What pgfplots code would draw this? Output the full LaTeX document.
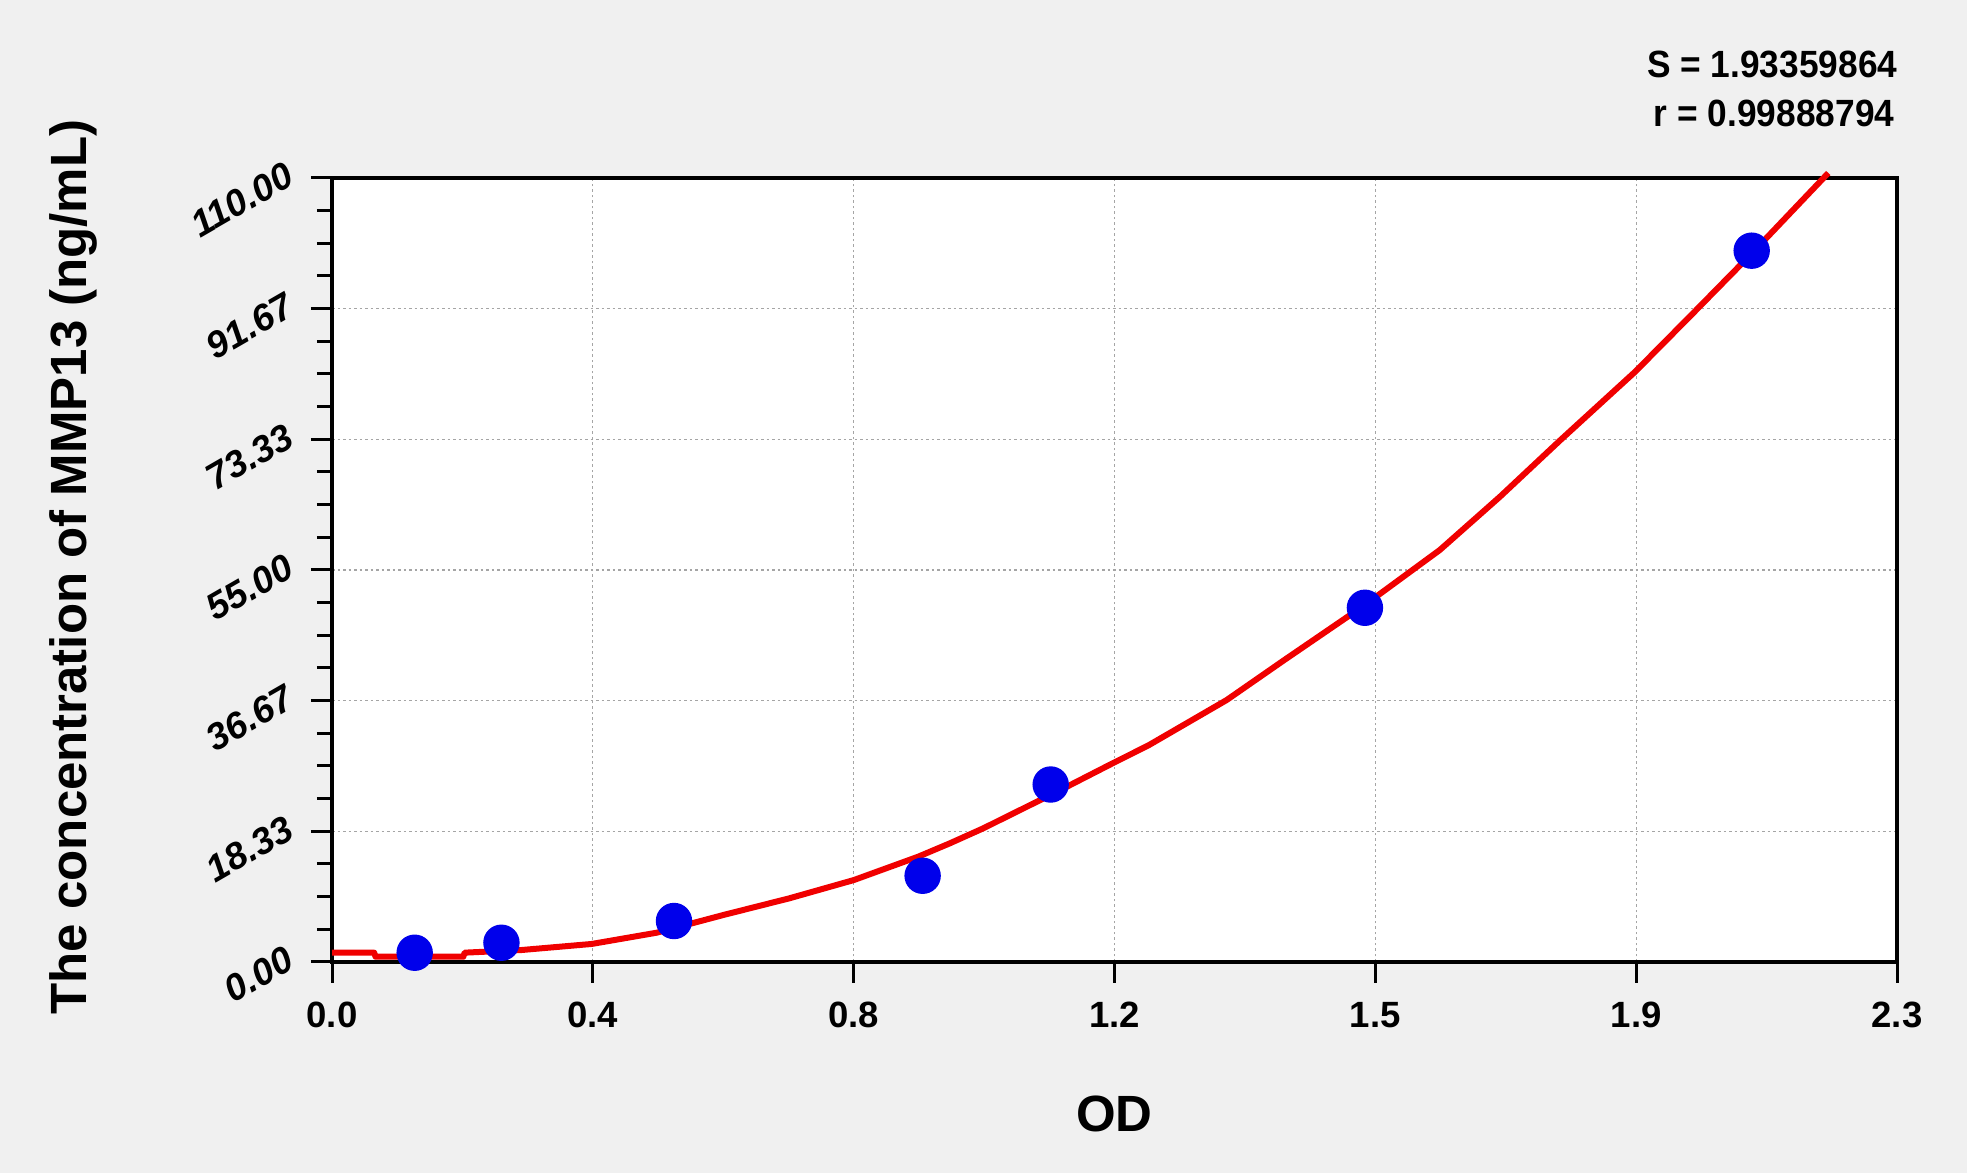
\documentclass[border=0pt]{standalone}
\usepackage{fontspec}
\setmainfont{Liberation Sans}
\newfontfamily\condfont[FakeStretch=0.93]{Liberation Sans}
\usepackage{pgfplots}
\pgfplotsset{compat=1.18}
\definecolor{bgc}{RGB}{240,240,240}
\definecolor{ptblue}{RGB}{0,0,235}
\definecolor{fitred}{RGB}{240,0,0}
\definecolor{gridc}{RGB}{165,165,165}

\begin{document}
\begin{tikzpicture}
% page = 1967 x 1173 px, 1 px = 0.1 mm
\path[fill=bgc, use as bounding box] (-33.2mm,-21.1mm) rectangle (163.5mm,96.2mm);
\begin{axis}[
  at={(0,0)}, anchor=south west,
  scale only axis, width=156.5mm, height=78.4mm,
  xmin=0, xmax=2.3, ymin=0, ymax=110,
  clip=false,
  axis background/.style={fill=white},
  axis line style={line width=0.33mm},
  xtick={0,0.383333,0.766667,1.15,1.533333,1.916667,2.3},
  xticklabels={0.0,0.4,0.8,1.2,1.5,1.9,2.3},
  ytick={0,18.333333,36.666667,55,73.333333,91.666667,110},
  yticklabels={0.00,18.33,36.67,55.00,73.33,91.67,110.00},
  minor x tick num=3, minor y tick num=3,
  tick align=outside, tick pos=left,
  major tick length=2.1mm, minor tick length=1.5mm,
  every tick/.style={black, line width=0.3mm},
  grid=major,
  major grid style={gridc, line width=0.12mm, dash pattern=on 0.25mm off 0.3mm},
  xticklabel style={font=\fontsize{10.4pt}{12pt}\selectfont\bfseries, anchor=base, yshift=-4.5mm},
  yticklabel style={font=\fontsize{10.6pt}{12pt}\selectfont\bfseries\itshape, xshift=-1.0mm, yshift=1.2mm, rotate=30, anchor=east},
]
% standards
\addplot[only marks, mark=*, mark size=1.75mm, ptblue, mark options={draw=ptblue, fill=ptblue}] coordinates {
  (0.1215, 1.3) (0.249, 2.7) (0.5026, 5.75) (0.868, 12.1)
  (1.0562, 24.9) (1.518, 49.7) (2.0864, 99.8)
};
% fitted curve
\addplot[fitred, line width=0.6mm, line join=round, no marks] coordinates {
  (0,1.31) (0.062,1.31) (0.064,0.74) (0.193,0.74) (0.195,1.31)
  (0.2785,1.68) (0.3817,2.53) (0.4772,4.11) (0.575,6.59) (0.672,8.93)
  (0.767,11.5) (0.8616,14.78) (0.908,16.65) (0.957,18.75) (1.070,24.1)
  (1.1473,27.88) (1.2,30.4) (1.3149,36.76) (1.4,42.4) (1.518,50.1)
  (1.628,57.8) (1.7165,65.28) (1.805,73.2) (1.915,82.8) (2.0,91.0)
  (2.0864,99.4) (2.199,110.7)
};
\end{axis}
\node[anchor=base east, inner sep=0pt, font=\fontsize{10.8pt}{12pt}\condfont\bfseries] at (156.6mm,88.4mm) {S = 1.93359864};
\node[anchor=base east, inner sep=0pt, font=\fontsize{10.8pt}{12pt}\condfont\bfseries] at (156.3mm,83.5mm) {r = 0.99888794};
\node[anchor=base, font=\fontsize{14.5pt}{17pt}\selectfont\bfseries] at (78.25mm,-17.0mm) {OD};
\node[rotate=90, font=\fontsize{14.5pt}{17pt}\selectfont\bfseries] at (-25.9mm,39.5mm) {The concentration of MMP13 (ng/mL)};
\end{tikzpicture}
\end{document}
